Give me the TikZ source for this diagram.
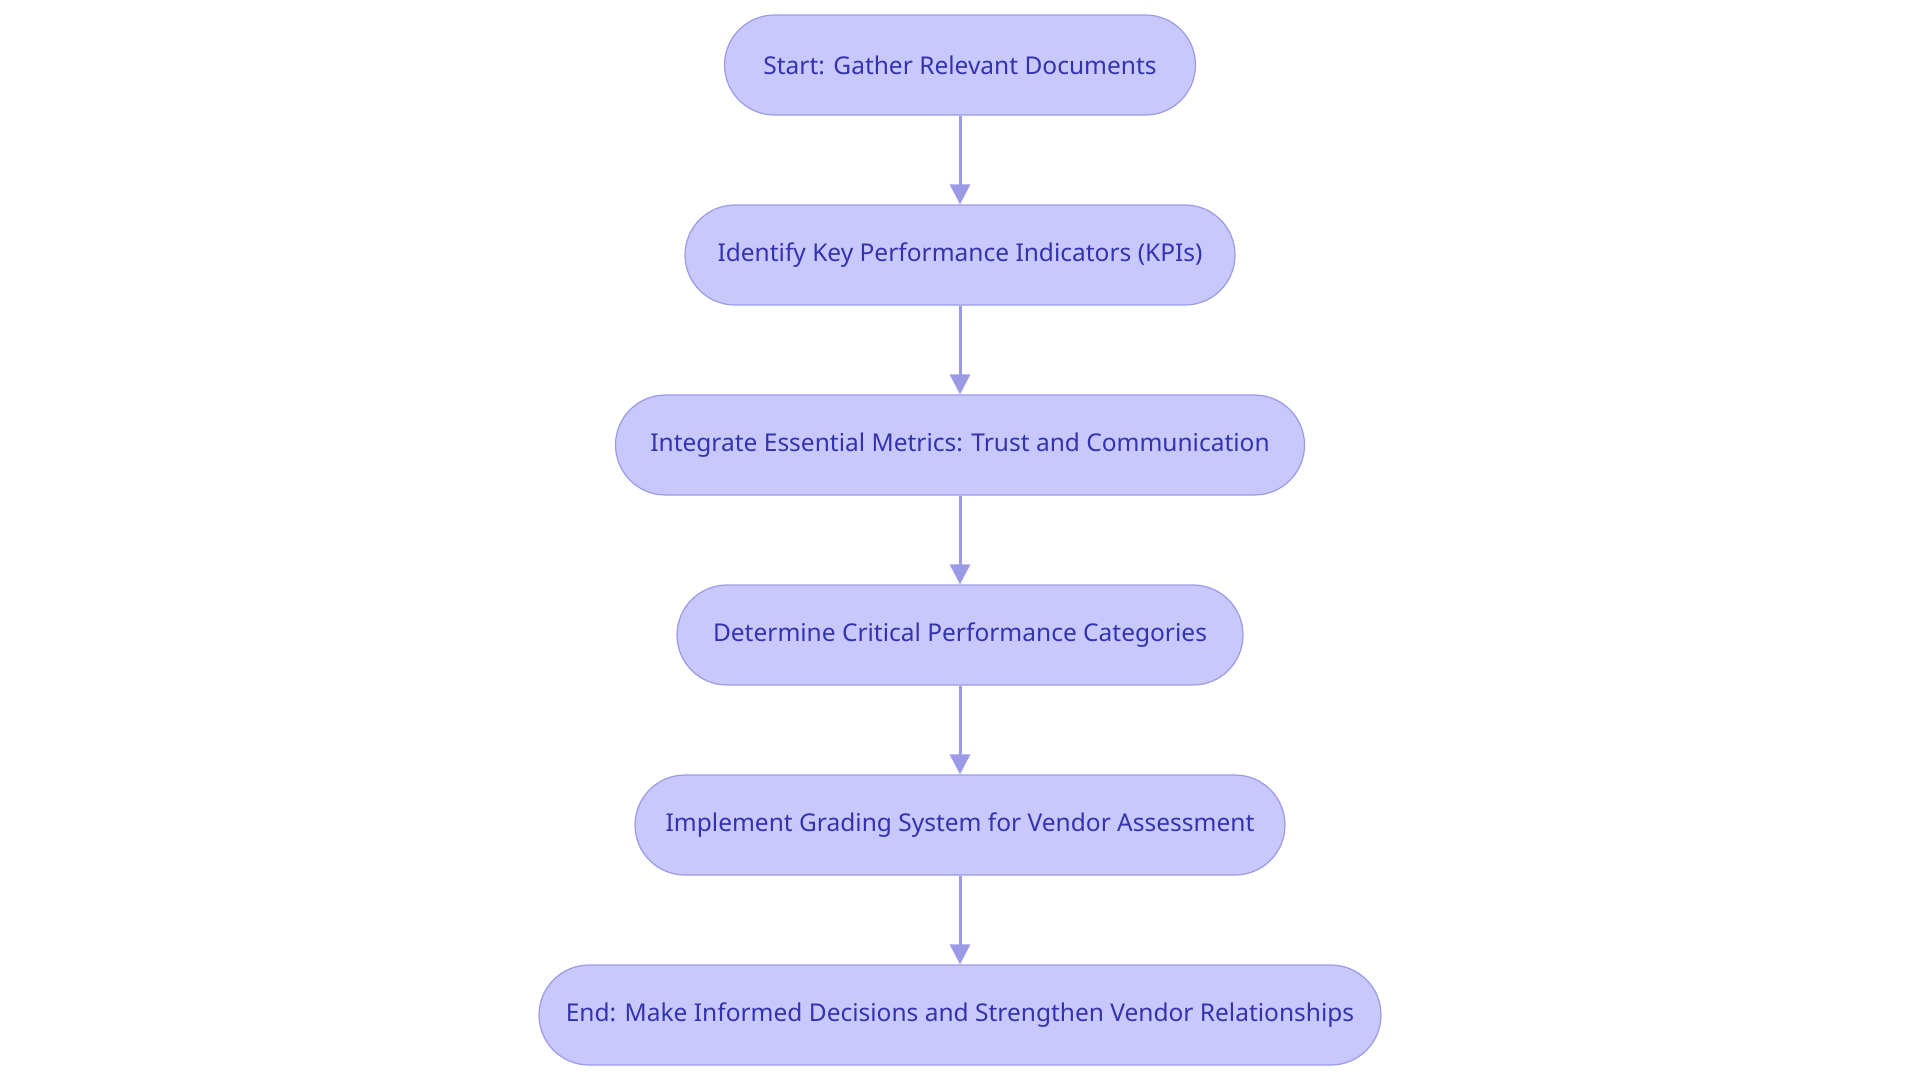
\documentclass[tikz,border=0pt]{standalone}
\usepackage{fontspec}
\setmainfont{Noto Sans}
\usetikzlibrary{arrows.meta}
\definecolor{nfill}{HTML}{C8C8FC}
\definecolor{nline}{HTML}{9A9AE6}
\definecolor{ntext}{HTML}{3333B0}
\begin{document}
\begin{tikzpicture}[x=1pt,y=-1pt,
  box/.style={draw=nline,line width=1.2pt,fill=nfill,rounded corners=50pt,minimum height=100pt,text=ntext,font=\fontsize{24.5}{29}\selectfont,inner sep=0pt},
  arr/.style={draw=nline,line width=3pt,-{Triangle[length=20pt,width=20pt]}}]
\useasboundingbox (0,0) rectangle (1920,1080);
\node[box,minimum width=471pt] (a) at (960,65) {Start: Gather Relevant Documents};
\node[box,minimum width=550pt] (b) at (960,255) {Identify Key Performance Indicators (KPIs)};
\node[box,minimum width=689pt] (c) at (960,445) {Integrate Essential Metrics: Trust and Communication};
\node[box,minimum width=566pt] (d) at (960,635) {Determine Critical Performance Categories};
\node[box,minimum width=650pt] (e) at (960,825) {Implement Grading System for Vendor Assessment};
\node[box,minimum width=842pt] (f) at (960,1015) {End: Make Informed Decisions and Strengthen Vendor Relationships};
\draw[arr] (a) -- (b);
\draw[arr] (b) -- (c);
\draw[arr] (c) -- (d);
\draw[arr] (d) -- (e);
\draw[arr] (e) -- (f);
\end{tikzpicture}
\end{document}
